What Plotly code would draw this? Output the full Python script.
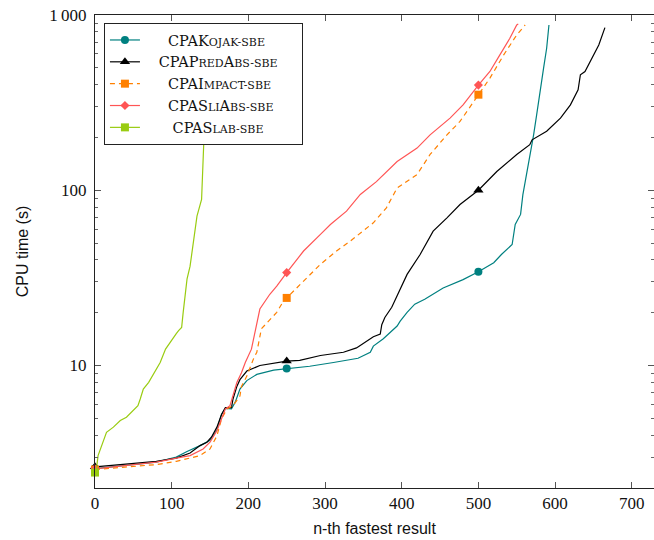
import plotly.graph_objects as go

# ---- data ----
kojak_x = [0, 37, 80, 106, 120, 137, 150, 159, 165, 170, 178, 183, 189, 198, 211, 233, 250, 280, 311, 343, 359, 363, 376, 385, 394, 398, 407, 417, 430, 454, 480, 500, 520, 530, 544, 548, 555, 558, 563, 567, 572, 576, 580, 585, 589, 592]
kojak_y = [2.58, 2.68, 2.81, 3.0, 3.23, 3.49, 3.74, 4.3, 5.25, 5.7, 5.65, 6.2, 7.34, 8.2, 8.9, 9.4, 9.6, 9.9, 10.4, 11.0, 11.9, 12.9, 14.2, 15.4, 16.8, 17.9, 20.1, 22.4, 23.9, 27.7, 30.9, 34.3, 38.6, 43, 49, 63.8, 72.8, 94.4, 123, 160, 207, 270, 366, 498, 646, 877]

predabs_x = [0, 37, 80, 106, 124, 137, 146, 152, 159, 165, 170, 178, 180, 185, 189, 198, 215, 250, 267, 294, 324, 341, 354, 363, 372, 374, 378, 387, 394, 407, 424, 441, 459, 476, 500, 524, 550, 567, 570, 589, 607, 620, 630, 633, 639, 648, 657, 665]
predabs_y = [2.64, 2.72, 2.84, 2.96, 3.17, 3.49, 3.65, 3.91, 4.45, 5.25, 5.75, 5.75, 6.44, 7.6, 8.3, 9.3, 10.0, 10.6, 10.7, 11.4, 11.9, 12.6, 13.7, 14.6, 15.1, 17.1, 18.8, 21.5, 25.0, 33.1, 43, 58.4, 69.6, 82.9, 100, 128, 160, 182, 194, 217, 258, 307, 374, 456, 476, 567, 675, 847]

impact_x = [0, 37, 80, 106, 124, 137, 150, 159, 165, 172, 180, 189, 191, 198, 207, 211, 217, 226, 237, 245, 250, 272, 294, 315, 333, 363, 380, 394, 420, 437, 459, 476, 500, 515, 533, 550, 561]
impact_y = [2.55, 2.62, 2.72, 2.84, 2.95, 3.06, 3.34, 3.97, 4.95, 5.65, 5.9, 6.7, 7.6, 8.7, 11.0, 11.9, 16.2, 17.8, 20.1, 23.0, 24.3, 30.3, 37.8, 45, 51.3, 65.2, 79.4, 103, 123, 160, 207, 247, 351, 436, 592, 770, 877]

sliabs_x = [0, 37, 80, 106, 124, 141, 150, 159, 165, 170, 176, 180, 185, 191, 196, 204, 209, 215, 228, 237, 250, 272, 294, 307, 328, 346, 367, 394, 420, 437, 463, 480, 500, 515, 528, 541, 550, 552]
sliabs_y = [2.57, 2.69, 2.81, 2.96, 3.06, 3.34, 3.65, 4.25, 4.95, 5.65, 5.9, 6.73, 8.0, 9.1, 10.4, 12.4, 15.8, 21.0, 25.5, 28.4, 33.9, 45, 56, 63.8, 76, 94.6, 112, 146, 174, 207, 258, 307, 398, 476, 592, 737, 877, 890]

slab_x = [0, 2, 4, 9, 15, 24, 33, 41, 48, 56, 59, 63, 70, 76, 85, 92, 102, 106, 109, 113, 115, 117, 120, 124, 128, 133, 139, 141, 142, 143.5, 145]
slab_y = [2.45, 2.6, 3.06, 3.5, 4.16, 4.45, 4.85, 5.07, 5.41, 5.9, 6.44, 7.34, 8.02, 8.94, 10.4, 12.4, 14.5, 15.2, 15.8, 16.5, 20.1, 23.9, 31.1, 36.9, 50.2, 71.1, 88.6, 143, 194, 400, 900]

mark_at = [0, 250, 500]

x_ticks = [0, 100, 200, 300, 400, 500, 600, 700]
y_ticks = [10, 100, 1000]
y_ticktext = ["10", "100", "1\u2009000"]
y_minor = [3, 4, 5, 6, 7, 8, 9, 20, 30, 40, 50, 60, 70, 80, 90, 200, 300, 400, 500, 600, 700, 800, 900]

NB = "\u00a0"
SC = "<span style='font-size:11px'>"
series = [
    dict(name=NB * 5 + "CPAK" + SC + "OJAK-SBE</span>", x=kojak_x, y=kojak_y, color="#008080",
         dash="solid", symbol="circle", size=8),
    dict(name=NB * 3 + "CPAP" + SC + "RED</span>A" + SC + "BS-SBE</span>" + NB * 4, x=predabs_x, y=predabs_y,
         color="#000000", dash="solid", symbol="triangle-up", size=9),
    dict(name=NB * 5 + "CPAI" + SC + "MPACT-SBE</span>", x=impact_x, y=impact_y, color="#ff8000",
         dash="5px,4px", symbol="square", size=8),
    dict(name=NB * 5 + "CPAS" + SC + "LI</span>A" + SC + "BS-SBE</span>", x=sliabs_x, y=sliabs_y,
         color="#ff5555", dash="solid", symbol="diamond", size=7),
    dict(name=NB * 6 + "CPAS" + SC + "LAB-SBE</span>", x=slab_x, y=slab_y, color="#99cc11",
         dash="solid", symbol="square", size=8),
]

fig = go.Figure()
for s in series:
    fig.add_trace(go.Scatter(x=s["x"], y=s["y"], mode="lines",
                             line=dict(color=s["color"], width=1.2, dash=s["dash"]),
                             showlegend=False, hoverinfo="skip"))
    mx = [xv for xv in s["x"] if xv in mark_at]
    my = [s["y"][s["x"].index(xv)] for xv in mx]
    fig.add_trace(go.Scatter(x=mx, y=my, mode="markers", cliponaxis=False,
                             marker=dict(color=s["color"], symbol=s["symbol"], size=s["size"],
                                         line=dict(width=0)),
                             showlegend=False))
for s in series:
    fig.add_trace(go.Scatter(x=[None], y=[None], mode="lines+markers", name=s["name"],
                             line=dict(color=s["color"], width=1.2, dash=s["dash"]),
                             marker=dict(color=s["color"], symbol=s["symbol"], size=s["size"])))

axis_common = dict(showline=True, linecolor="#222", linewidth=1, mirror="ticks",
                   ticks="inside", tickcolor="#555", showgrid=False, zeroline=False,
                   automargin=False,
                   tickfont=dict(family="Liberation Serif", size=17, color="#111"))

fig.update_xaxes(range=[0, 729], tickvals=x_ticks, ticklen=6,
                 title=dict(text="n-th fastest result", standoff=10,
                            font=dict(family="Liberation Sans", size=16, color="#111")),
                 **axis_common)
fig.update_yaxes(type="log", range=[0.301, 3], tickvals=y_ticks, ticktext=y_ticktext, ticklen=6,
                 minor=dict(tickvals=y_minor, ticks="inside", ticklen=3, tickcolor="#666"),
                 ticklabelstandoff=4,
                 title=dict(text="CPU time (s)", standoff=16,
                            font=dict(family="Liberation Sans", size=16, color="#111")),
                 **axis_common)

fig.update_layout(
    width=654, height=540,
    margin=dict(l=95, r=0, t=15, b=52),
    paper_bgcolor="white", plot_bgcolor="white",
    legend=dict(x=0.016, y=0.983, xanchor="left", yanchor="top",
                bgcolor="white", bordercolor="#222", borderwidth=1,
                font=dict(family="DejaVu Serif", size=14.5, color="#111"),
                itemwidth=30, tracegroupgap=0),
)

fig.write_html("out.html", config={"displayModeBar": False},
               post_script="document.body.style.margin='0';document.body.style.padding='0';")
